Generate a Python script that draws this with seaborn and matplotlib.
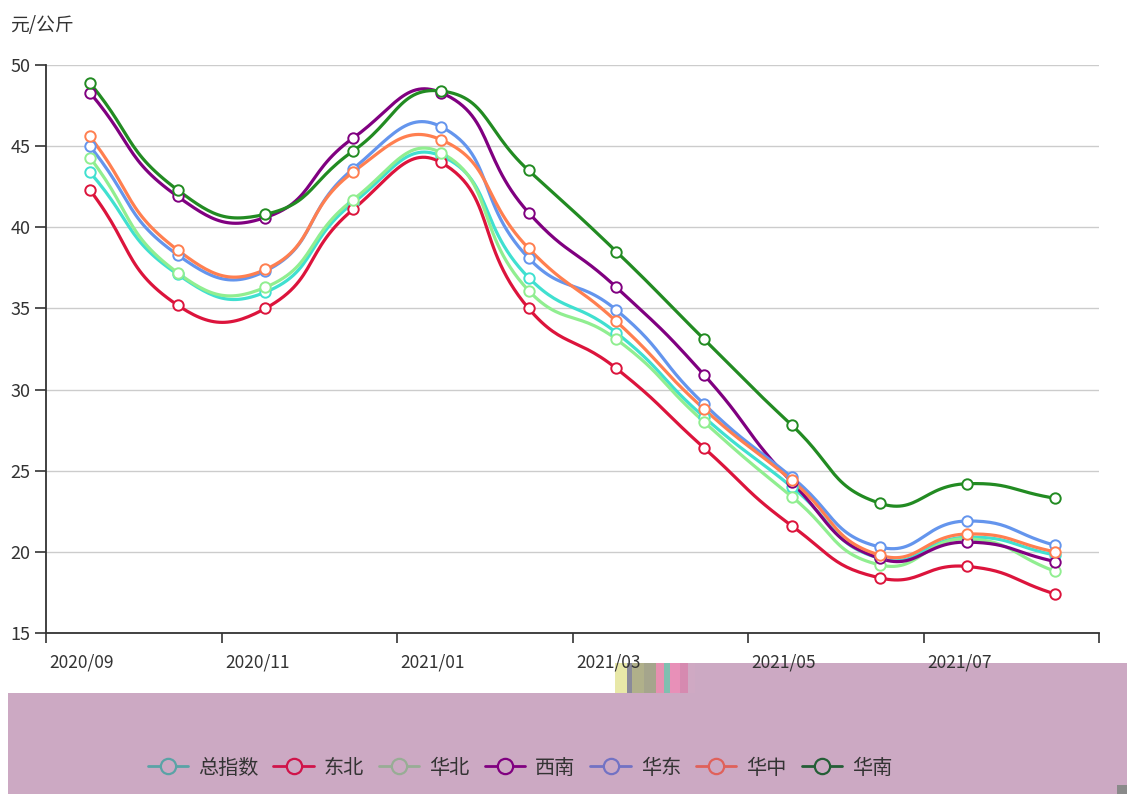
import numpy as np
import pandas as pd
import matplotlib
matplotlib.use("Agg")
import matplotlib.pyplot as plt
from matplotlib.lines import Line2D
from matplotlib.patches import Rectangle
import seaborn as sns

months = ["2020/09", "2020/10", "2020/11", "2020/12", "2021/01", "2021/02",
          "2021/03", "2021/04", "2021/05", "2021/06", "2021/07", "2021/08"]
series_names = ["总指数", "东北", "华北", "西南", "华东", "华中", "华南"]
total_idx = [43.4, 37.1, 36.0, 41.5, 44.4, 36.9, 33.5, 28.3, 24.0, 19.6, 20.9, 19.8]
dongbei = [42.3, 35.2, 35.0, 41.1, 44.0, 35.0, 31.3, 26.4, 21.6, 18.4, 19.1, 17.4]
huabei = [44.3, 37.2, 36.3, 41.7, 44.6, 36.1, 33.1, 28.0, 23.4, 19.2, 20.8, 18.8]
xinan = [48.3, 41.9, 40.6, 45.5, 48.3, 40.9, 36.3, 30.9, 24.3, 19.6, 20.6, 19.4]
huadong = [45.0, 38.3, 37.3, 43.6, 46.2, 38.1, 34.9, 29.1, 24.6, 20.3, 21.9, 20.4]
huazhong = [45.6, 38.6, 37.4, 43.4, 45.4, 38.7, 34.2, 28.8, 24.4, 19.8, 21.1, 20.0]
huanan = [48.9, 42.3, 40.8, 44.7, 48.4, 43.5, 38.5, 33.1, 27.8, 23.0, 24.2, 23.3]
all_values = [total_idx, dongbei, huabei, xinan, huadong, huazhong, huanan]

line_colors = ["#40E0D0", "#DC143C", "#90EE90", "#800080", "#6495ED", "#FF7F50", "#228B22"]
legend_colors = ["#5aa3a6", "#d0144a", "#98ad95", "#800080", "#7272c4", "#e0615a", "#245e36"]

FONT = ["Noto Sans CJK SC", "DejaVu Sans"]
sns.set_theme(style="white")
plt.rcParams["font.family"] = FONT

W, H = 1127, 794
fig = plt.figure(figsize=(W / 100, H / 100), dpi=100)
fig.patch.set_facecolor("white")

# pink artifact band at the bottom
pink = "#cca9c3"
fig.patches.append(Rectangle((8 / W, 0), (W - 8) / W, (794 - 693) / H, transform=fig.transFigure,
                             facecolor=pink, edgecolor="none", zorder=-5))
fig.patches.append(Rectangle((695 / W, (794 - 693) / H), (W - 695) / W, 30 / H, transform=fig.transFigure,
                             facecolor=pink, edgecolor="none", zorder=-5))
for x0, w0, c in [(615, 12, "#e8e8a8"), (627, 5, "#8a8a9a"), (632, 12, "#b0b08a"), (644, 12, "#a5a58c"),
                  (656, 8, "#e68fb0"), (664, 6, "#7fbfb0"), (670, 10, "#e890b8"), (680, 8, "#d68ab0"),
                  (688, 7, "#cfa9c3")]:
    fig.patches.append(Rectangle((x0 / W, (794 - 693) / H), w0 / W, 30 / H, transform=fig.transFigure,
                                 facecolor=c, edgecolor="none", zorder=-4))
fig.patches.append(Rectangle((1117 / W, 0), 10 / W, 9 / H, transform=fig.transFigure,
                             facecolor="#8a8a8a", edgecolor="none", zorder=-4))

ax = fig.add_axes([46 / W, (794 - 633) / H, (1099 - 46) / W, 568 / H])
ax.set_facecolor("white")

# ECharts-like smooth bezier in pixel space
PX_X, PX_Y = 87.75, 16.23


def smooth_curve(xs, ys, smooth=0.5, n=30):
    P = np.column_stack([np.asarray(xs, float) * PX_X, np.asarray(ys, float) * PX_Y])
    m = len(P)
    cps = []
    for i in range(m):
        prev = P[i - 1] if i > 0 else P[i]
        nxt = P[i + 1] if i < m - 1 else P[i]
        v = nxt - prev
        d0 = np.linalg.norm(P[i] - prev)
        d1 = np.linalg.norm(nxt - P[i])
        r = d1 / (d0 + d1) if (d0 + d1) > 0 else 0.5
        cp0 = P[i] - v * smooth * (1 - r)
        cp1 = P[i] + v * smooth * r
        cps.append((cp0, cp1))
    out = []
    t = np.linspace(0, 1, n)[:, None]
    for i in range(m - 1):
        p0, p3 = P[i], P[i + 1]
        c1, c2 = cps[i][1], cps[i + 1][0]
        seg = (1 - t) ** 3 * p0 + 3 * (1 - t) ** 2 * t * c1 + 3 * (1 - t) * t ** 2 * c2 + t ** 3 * p3
        out.append(seg if i == 0 else seg[1:])
    out = np.vstack(out)
    return out[:, 0] / PX_X, out[:, 1] / PX_Y


idx = np.arange(len(months))
rows = []
for name, vals in zip(series_names, all_values):
    sx, sy = smooth_curve(idx, vals)
    rows.append(pd.DataFrame({"x": sx, "y": sy, "series": name, "order": np.arange(len(sx))}))
dense = pd.concat(rows, ignore_index=True)

sns.lineplot(data=dense, x="x", y="y", hue="series", hue_order=series_names,
             palette=line_colors, sort=False, estimator=None, units="series",
             linewidth=2.3, legend=False, ax=ax, zorder=3)

for name, vals, c in zip(series_names, all_values, line_colors):
    ax.plot(idx, vals, linestyle="none", marker="o", markersize=7.5,
            markerfacecolor="white", markeredgecolor=c, markeredgewidth=1.4, zorder=5)

ax.set_xlim(-0.5, len(months) - 0.5)
ax.set_ylim(15, 50)
ax.set_yticks([15, 20, 25, 30, 35, 40, 45, 50])
ax.set_yticklabels(["15", "20", "25", "30", "35", "40", "45", "50"])
ax.yaxis.grid(True, color="#cccccc", linewidth=1)
ax.xaxis.grid(False)
ax.set_xlabel("")
ax.set_ylabel("")

# boundary ticks every two categories; labels centered on categories
ax.set_xticks(np.arange(-0.5, len(months), 2))
ax.set_xticklabels([])
ax.set_xticks(idx[::2] - 0.09, minor=True)
ax.set_xticklabels(months[::2], minor=True)
ax.tick_params(axis="x", which="major", direction="out", length=7, width=1.2, color="#333333", bottom=True)
ax.tick_params(axis="x", which="minor", length=0, pad=15, labelsize=12.5, labelcolor="#333333")
ax.tick_params(axis="y", which="major", direction="out", length=8, width=1.2, color="#333333",
               left=True, pad=3, labelsize=13, labelcolor="#333333")

for side in ["top", "right"]:
    ax.spines[side].set_visible(False)
for side in ["left", "bottom"]:
    ax.spines[side].set_visible(True)
    ax.spines[side].set_color("#333333")
    ax.spines[side].set_linewidth(1.3)

fig.text(10 / W, 1 - 26 / H, "元/公斤", fontsize=13.5, color="#333333", va="center", ha="left")

handles = [Line2D([0], [0], color=c, linewidth=2, marker="o", markersize=11,
                  markerfacecolor=pink, markeredgecolor=c, markeredgewidth=1.6)
           for c in legend_colors]
fig.legend(handles, series_names, loc="center", bbox_to_anchor=(520 / W, 1 - 768 / H),
           ncol=7, frameon=False, fontsize=14.5, handlelength=2.0, handletextpad=0.5,
           columnspacing=0.75, labelcolor="#333333")

fig.savefig("out.png", dpi=100)
